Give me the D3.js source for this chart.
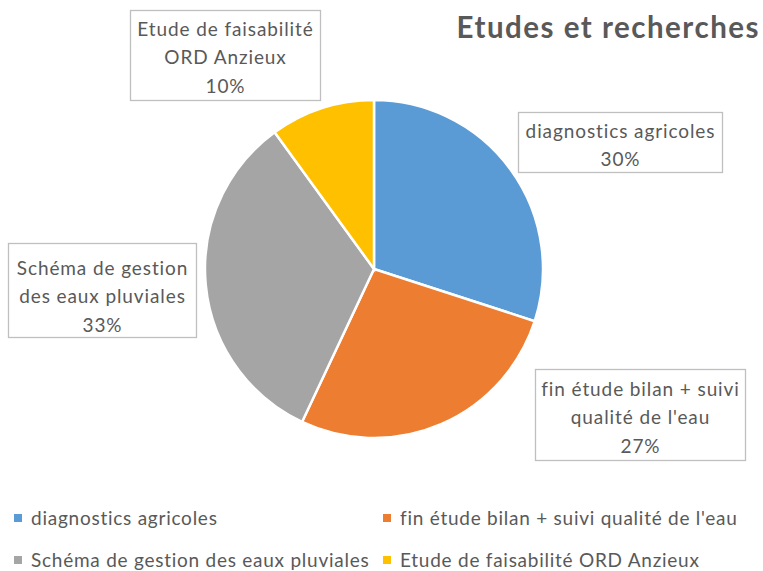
<!DOCTYPE html>
<html><head><meta charset="utf-8">
<script src="https://cdn.jsdelivr.net/npm/d3@7"></script>
<style>body{margin:0;background:#fff}svg{display:block;font-family:Lato,"Open Sans",sans-serif}</style>
</head><body><svg id="c" width="763" height="571"></svg>
<script>
const title = "Etudes et recherches";
const categories = ["diagnostics agricoles","fin étude bilan + suivi qualité de l'eau","Schéma de gestion des eaux pluviales","Etude de faisabilité ORD Anzieux"];
const values = [30, 27, 33, 10];
const colors = ["#5b9bd5","#ed7d31","#a5a5a5","#ffc000"];
const labelLines = [["diagnostics agricoles"],["fin étude bilan + suivi","qualité de l'eau"],["Schéma de gestion","des eaux pluviales"],["Etude de faisabilité","ORD Anzieux"]];

const svg = d3.select("#c");
const cx = 374, cy = 269, r = 169;
const total = d3.sum(values);
const pie = d3.pie().sort(null).value(d=>d)(values);
const arc = d3.arc().innerRadius(0).outerRadius(r);
const g = svg.append("g").attr("transform",`translate(${cx},${cy})`);
g.selectAll("path").data(pie).join("path").attr("d",arc)
 .attr("fill",(d,i)=>colors[i]).attr("stroke","#fff").attr("stroke-width",2.5);

svg.append("text").attr("x",760).attr("y",38).attr("text-anchor","end")
 .attr("font-size",29.5).attr("font-weight","bold").attr("letter-spacing",1.5).attr("fill","#595959").text(title);

// label boxes: [x,y,w,h, first line center y]
const boxes = [[518,112,204,60,131],[535,369,210,91,389],[8,243,188,94,268],[130,10,190,90,29]];
const lh = 28.5;
labelLines.forEach((lines,i)=>{
  const [bx,by,bw,bh,ly] = boxes[i];
  svg.append("rect").attr("x",bx+0.5).attr("y",by+0.5).attr("width",bw).attr("height",bh)
   .attr("fill","#fff").attr("stroke","#bfbfbf").attr("stroke-width",1.3);
  const all = lines.concat([Math.round(values[i]/total*100)+"%"]);
  all.forEach((t,j)=>{
    svg.append("text").attr("x",bx+bw/2+0.5).attr("y",ly+j*lh).attr("dy","0.35em")
     .attr("text-anchor","middle").attr("font-size",19).attr("letter-spacing",0.9).attr("fill","#595959").text(t);
  });
});

// legend
const legPos = [[14,518],[383,518],[14,560],[383,560]];
categories.forEach((c,i)=>{
  const [x,y] = legPos[i];
  svg.append("rect").attr("x",x).attr("y",y-4).attr("width",8).attr("height",8).attr("fill",colors[i]);
  svg.append("text").attr("x",x+17).attr("y",y).attr("dy","0.35em").attr("font-size",19)
   .attr("letter-spacing",0.75).attr("fill","#595959").text(c);
});
</script></body></html>
